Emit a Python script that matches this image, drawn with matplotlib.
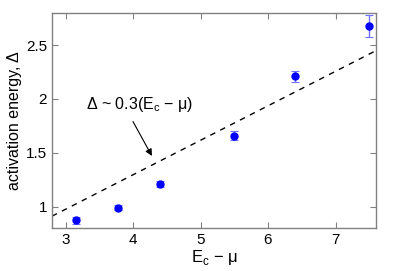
import numpy as np
import matplotlib.pyplot as plt

plt.rcParams['font.family'] = ['Liberation Sans', 'DejaVu Sans']

# measured points
ec_mu = [3.15, 3.78, 4.40, 5.50, 6.40, 7.50]
delta = [0.87, 0.99, 1.21, 1.66, 2.21, 2.68]
delta_err = [0.035, 0.025, 0.03, 0.045, 0.055, 0.10]

# dashed guide line endpoints
line_x = [2.8, 7.6]
line_y = [0.91, 2.45]

fig = plt.figure(figsize=(3.99, 2.71), dpi=100)
ax = fig.add_axes([52/399, 1 - 228/271, (376-52)/399, (228-13)/271])

ax.plot(line_x, line_y, '--', color='black', lw=1, dashes=(4, 4))
ax.errorbar(ec_mu, delta, yerr=delta_err, fmt='o', color='blue', ms=5,
            ecolor='#7070ff', elinewidth=1, capsize=3, capthick=0.8)

ax.text(4.1, 1.95, 'Δ ~ 0.3(E$_\\mathregular{c}$ − μ)', ha='center', va='center',
        fontsize=11.5)
ax.annotate('', xy=(4.28, 1.47), xytext=(4.0, 1.79),
            arrowprops=dict(arrowstyle='-|>', color='black', lw=0.8,
                            mutation_scale=10, shrinkA=0, shrinkB=0))

ax.set_xlim(2.8, 7.6)
ax.set_ylim(0.8, 2.8)
ax.set_xticks([3, 4, 5, 6, 7])
ax.set_yticks([1, 1.5, 2, 2.5])
ax.set_yticklabels(['1', '1.5', '2', '2.5'])
ax.tick_params(direction='in', top=True, right=True, length=4, color='#808080',
               labelsize=11, width=0.8)
for s in ax.spines.values():
    s.set_color('#808080')
    s.set_linewidth(1)

ax.set_xlabel('E$_\\mathregular{c}$ − μ', fontsize=12, labelpad=1)
ax.set_ylabel('activation energy, Δ', fontsize=11.5, labelpad=3)

fig.savefig('out.png', dpi=100)
